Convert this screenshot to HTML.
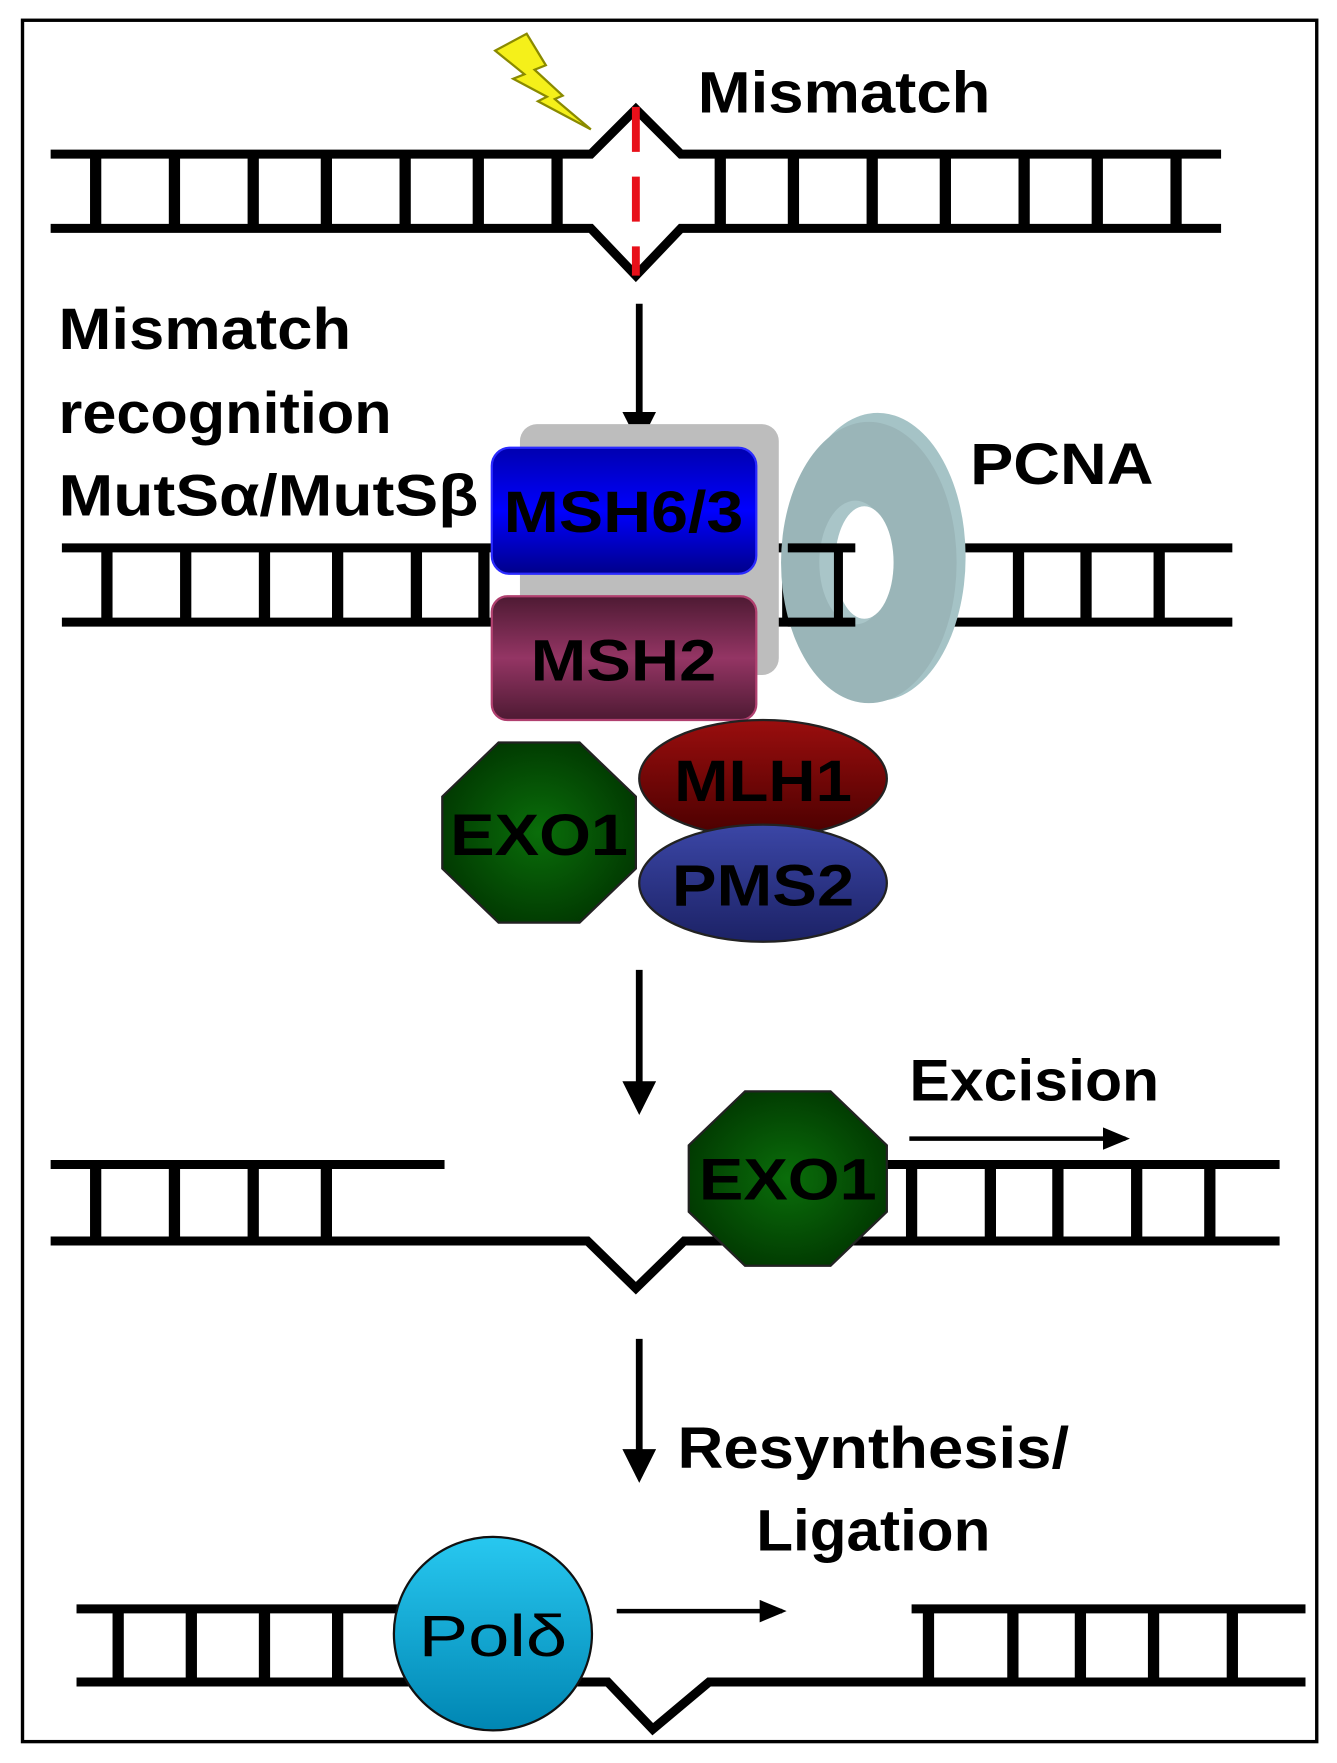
<!DOCTYPE html>
<html><head><style>html,body{margin:0;padding:0;background:#fff}svg{display:block}</style></head>
<body>
<svg width="1337" height="1763" viewBox="0 0 1188 1567" preserveAspectRatio="none" xmlns="http://www.w3.org/2000/svg" font-family="Liberation Sans, sans-serif">
<defs>
<linearGradient id="bl" x1="0" y1="0" x2="0" y2="1"><stop offset="0" stop-color="#0000b0"/><stop offset="0.5" stop-color="#0000ff"/><stop offset="1" stop-color="#00008a"/></linearGradient>
<linearGradient id="mg" x1="0" y1="0" x2="0" y2="1"><stop offset="0" stop-color="#4e1a33"/><stop offset="0.5" stop-color="#943564"/><stop offset="1" stop-color="#4e1a33"/></linearGradient>
<radialGradient id="gr" cx="0.5" cy="0.5" r="0.6"><stop offset="0" stop-color="#0a6e0a"/><stop offset="1" stop-color="#003300"/></radialGradient>
<linearGradient id="rd" x1="0" y1="0" x2="0" y2="1"><stop offset="0" stop-color="#9a0e0e"/><stop offset="1" stop-color="#4a0000"/></linearGradient>
<linearGradient id="pu" x1="0" y1="0" x2="0" y2="1"><stop offset="0" stop-color="#3b46a6"/><stop offset="1" stop-color="#1c2266"/></linearGradient>
<linearGradient id="cy" x1="0" y1="0" x2="0" y2="1"><stop offset="0" stop-color="#28c8f0"/><stop offset="1" stop-color="#0086b3"/></linearGradient>
<marker id="ah" markerWidth="5" markerHeight="5" refX="4" refY="2.5" orient="auto" markerUnits="strokeWidth"><path d="M0,0 L5,2.5 L0,5 z" fill="#000"/></marker>
<marker id="ah2" markerWidth="6" markerHeight="5" refX="5" refY="2.5" orient="auto" markerUnits="strokeWidth"><path d="M0,0 L6,2.5 L0,5 z" fill="#000"/></marker>
</defs>
<rect x="20" y="18" width="1150" height="1530" fill="none" stroke="#000" stroke-width="3"/>

<g stroke="#000" stroke-width="8" fill="none">
<polyline points="45,137 525,137 565,97 605,137 1085,137"/>
<polyline points="45,203 525,203 565,245 605,203 1085,203"/>
<g stroke-width="10">
<path d="M85,137V203M155,137V203M225,137V203M290,137V203M360,137V203M425,137V203M495,137V203M640,137V203M705,137V203M775,137V203M840,137V203M910,137V203M975,137V203M1045,137V203"/>
</g>
<path d="M55,487H1095M55,553H1095"/>
<g stroke-width="10"><path d="M95,487V553M165,487V553M235,487V553M300,487V553M370,487V553M430,487V553M700,487V553M745,487V553M905,487V553M965,487V553M1030,487V553"/></g>
<path d="M45,1035H395M780,1035H1137"/>
<polyline points="45,1103 522,1103 565,1145 608,1103 1137,1103"/>
<g stroke-width="10"><path d="M85,1035V1103M155,1035V1103M225,1035V1103M290,1035V1103M810,1035V1103M880,1035V1103M940,1035V1103M1010,1035V1103M1075,1035V1103"/></g>
<path d="M68,1430H360M810,1430H1160"/>
<polyline points="68,1495 540,1495 580,1537 630,1495 1160,1495"/>
<g stroke-width="10"><path d="M105,1430V1495M170,1430V1495M235,1430V1495M300,1430V1495M825,1430V1495M900,1430V1495M960,1430V1495M1025,1430V1495M1095,1430V1495"/></g>
</g>

<line x1="565" y1="95" x2="565" y2="245" stroke="#e8101a" stroke-width="7" stroke-dasharray="40,22" />
<polygon points="440,45 468,30 485,58 475,62 500,85 493,88 525,115 478,90 486,86 456,70 466,66" fill="#f5f01a" stroke="#8a8a00" stroke-width="2"/>

<g font-size="52" font-weight="bold" fill="#000" lengthAdjust="spacingAndGlyphs">
<text x="620" y="100" textLength="260" lengthAdjust="spacingAndGlyphs">Mismatch</text>
<text x="52" y="310" textLength="260" lengthAdjust="spacingAndGlyphs">Mismatch</text>
<text x="52" y="385" textLength="296" lengthAdjust="spacingAndGlyphs">recognition</text>
<text x="52" y="458" textLength="373" lengthAdjust="spacingAndGlyphs">MutSα/MutSβ</text>
<text x="862" y="430" textLength="163" lengthAdjust="spacingAndGlyphs">PCNA</text>
<text x="808" y="978" textLength="222" lengthAdjust="spacingAndGlyphs">Excision</text>
<text x="602" y="1305" textLength="348" lengthAdjust="spacingAndGlyphs">Resynthesis/</text>
<text x="672" y="1378" textLength="208" lengthAdjust="spacingAndGlyphs">Ligation</text>
</g>

<g stroke="#000" stroke-width="6" marker-end="url(#ah)">
<line x1="568" y1="270" x2="568" y2="390"/>
<line x1="568" y1="862" x2="568" y2="985"/>
<line x1="568" y1="1190" x2="568" y2="1312"/>
</g>
<g stroke="#000" stroke-width="4" marker-end="url(#ah2)">
<line x1="808" y1="1012" x2="1000" y2="1012"/>
<line x1="548" y1="1432" x2="695" y2="1432"/>
</g>

<rect x="462" y="377" width="230" height="223" rx="15" fill="#bdbdbd"/>
<ellipse cx="780" cy="495" rx="78" ry="128" fill="#a5c3c6"/>
<ellipse cx="772" cy="500" rx="78" ry="125" fill="#9ab5b8"/>
<ellipse cx="760" cy="500" rx="32" ry="55" fill="#a9c5c8"/>
<ellipse cx="768" cy="500" rx="26" ry="50" fill="#fff"/>
<path d="M700,487H760M700,553H760M745,487V553" stroke="#000" stroke-width="8"/>
<rect x="437" y="398" width="235" height="112" rx="16" fill="url(#bl)" stroke="#2a2aff" stroke-width="2"/>
<text x="554" y="473" font-size="52" font-weight="bold" text-anchor="middle" textLength="213" lengthAdjust="spacingAndGlyphs">MSH6/3</text>
<rect x="437" y="530" width="235" height="110" rx="14" fill="url(#mg)" stroke="#b0406f" stroke-width="2"/>
<text x="554" y="605" font-size="52" font-weight="bold" text-anchor="middle" textLength="165" lengthAdjust="spacingAndGlyphs">MSH2</text>
<ellipse cx="678" cy="692" rx="110" ry="52" fill="url(#rd)" stroke="#222" stroke-width="2"/>
<text x="678" y="712" font-size="52" font-weight="bold" text-anchor="middle" textLength="158" lengthAdjust="spacingAndGlyphs">MLH1</text>
<ellipse cx="678" cy="785" rx="110" ry="52" fill="url(#pu)" stroke="#222" stroke-width="2"/>
<text x="678" y="805" font-size="52" font-weight="bold" text-anchor="middle" textLength="162" lengthAdjust="spacingAndGlyphs">PMS2</text>
<polygon points="443,660 515,660 565,708 565,772 515,820 443,820 393,772 393,708" fill="url(#gr)" stroke="#222" stroke-width="2"/>
<text x="479" y="760" font-size="52" font-weight="bold" text-anchor="middle" textLength="158" lengthAdjust="spacingAndGlyphs">EXO1</text>
<polygon points="662,970 738,970 788,1018 788,1077 738,1125 662,1125 612,1077 612,1018" fill="url(#gr)" stroke="#222" stroke-width="2"/>
<text x="700" y="1066" font-size="52" font-weight="bold" text-anchor="middle" textLength="158" lengthAdjust="spacingAndGlyphs">EXO1</text>
<ellipse cx="438" cy="1452" rx="88" ry="86" fill="url(#cy)" stroke="#111" stroke-width="2"/>
<text x="438" y="1472" font-size="52" text-anchor="middle" textLength="132" lengthAdjust="spacingAndGlyphs">Polδ</text>
</svg>
</body></html>
